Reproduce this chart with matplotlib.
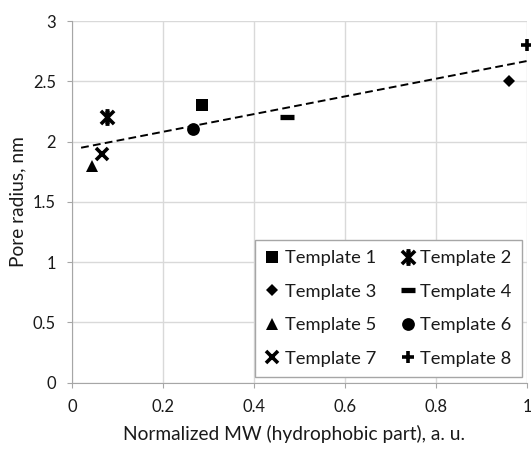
import numpy as np
import matplotlib
matplotlib.use("Agg")
import matplotlib.pyplot as plt
from matplotlib.path import Path
from matplotlib.ticker import FuncFormatter

plt.rcParams['font.family'] = ['Lato', 'DejaVu Sans']

labels = ["Template 1", "Template 2", "Template 3", "Template 4",
          "Template 5", "Template 6", "Template 7", "Template 8"]
mw = [0.285, 0.076, 0.96, 0.473, 0.045, 0.266, 0.067, 1.0]
radius = [2.30, 2.20, 2.50, 2.20, 1.80, 2.10, 1.90, 2.80]
xticks = [0, 0.2, 0.4, 0.6, 0.8, 1.0]
yticks = [0, 0.5, 1, 1.5, 2, 2.5, 3]
xlabel = "Normalized MW (hydrophobic part), a. u."
ylabel = "Pore radius, nm"

star = Path([(-1, -1), (1, 1), (-1, 1), (1, -1), (0, -1), (0, 1),
             (-0.3, 1), (0.3, 1), (-0.3, -1), (0.3, -1)],
            [Path.MOVETO, Path.LINETO, Path.MOVETO, Path.LINETO,
             Path.MOVETO, Path.LINETO, Path.MOVETO, Path.LINETO,
             Path.MOVETO, Path.LINETO])

styles = [
    dict(marker='s', ms=8.6, mew=0),
    dict(marker=star, ms=9.5, mew=2.6),
    dict(marker='D', ms=6.5, mew=0),
    dict(marker='_', ms=10.5, mew=3.8),
    dict(marker='^', ms=8.5, mew=0),
    dict(marker='o', ms=9.2, mew=0),
    dict(marker='x', ms=9.0, mew=2.6),
    dict(marker='+', ms=9.0, mew=2.6),
]

fig = plt.figure(figsize=(5.31, 4.5), dpi=100)
renderer = fig.canvas.get_renderer()


def fit_size(text, target_px, base=12.0):
    t = fig.text(0, 0, text, fontsize=base)
    w = t.get_window_extent(renderer).width
    t.remove()
    return base * target_px / w


label_fs = fit_size(xlabel, 340)
legend_fs = fit_size("Template 1", 91)
tick_fs = fit_size("0.4", 23)

ax = fig.add_axes([0.1356, 0.150, 0.857, 0.8033])

handles = []
for xi, yi, lab, st in zip(mw, radius, labels, styles):
    h, = ax.plot([xi], [yi], linestyle='none', color='black', mfc='black',
                 mec='black', label=lab, clip_on=False, zorder=4, **st)
    handles.append(h)

xs = np.array(mw)
ys = np.array(radius)
k, b = np.polyfit(xs, ys, 1)
xl = np.linspace(xs.min() - 0.025, xs.max(), 50)
ax.plot(xl, k * xl + b, color='black', linestyle=(0, (4, 2.2)), lw=1.4, zorder=3)

ax.set_xlim(0, 1)
ax.set_ylim(0, 3)
ax.set_xticks(xticks)
ax.set_yticks(yticks)
fmt = FuncFormatter(lambda v, p: ('%g' % round(v, 2)))
ax.xaxis.set_major_formatter(fmt)
ax.yaxis.set_major_formatter(fmt)
ax.grid(True, color='#d9d9d9', lw=1)
ax.set_axisbelow(True)
for s in ['top', 'right']:
    ax.spines[s].set_visible(False)
for s in ['left', 'bottom']:
    ax.spines[s].set_color('#a6a6a6')
ax.tick_params(colors='#a6a6a6', length=3.6, labelcolor='#1a1a1a',
               labelsize=tick_fs, pad=8)

ax.set_xlabel(xlabel, fontsize=label_fs, color='#1a1a1a')
ax.xaxis.label.set_va('center')
ax.xaxis.set_label_coords(0.487, -0.143)
ax.set_ylabel(ylabel, fontsize=label_fs, color='#1a1a1a')
ax.yaxis.label.set_va('center')
ax.yaxis.set_label_coords(-0.118, 0.5)

order = [0, 2, 4, 6, 1, 3, 5, 7]
leg = ax.legend([handles[i] for i in order], [labels[i] for i in order],
                ncol=2, loc='lower right', bbox_to_anchor=(0.988, 0.0155),
                fontsize=legend_fs, frameon=True, fancybox=False,
                edgecolor='#a6a6a6', framealpha=1, handlelength=0.75,
                handletextpad=0.3, columnspacing=1.35, labelspacing=0.95,
                borderpad=0.55, borderaxespad=0, markerscale=1.0)
leg.get_frame().set_linewidth(1)
for t in leg.get_texts():
    t.set_color('#1a1a1a')

fig.savefig("out.png", dpi=100)
